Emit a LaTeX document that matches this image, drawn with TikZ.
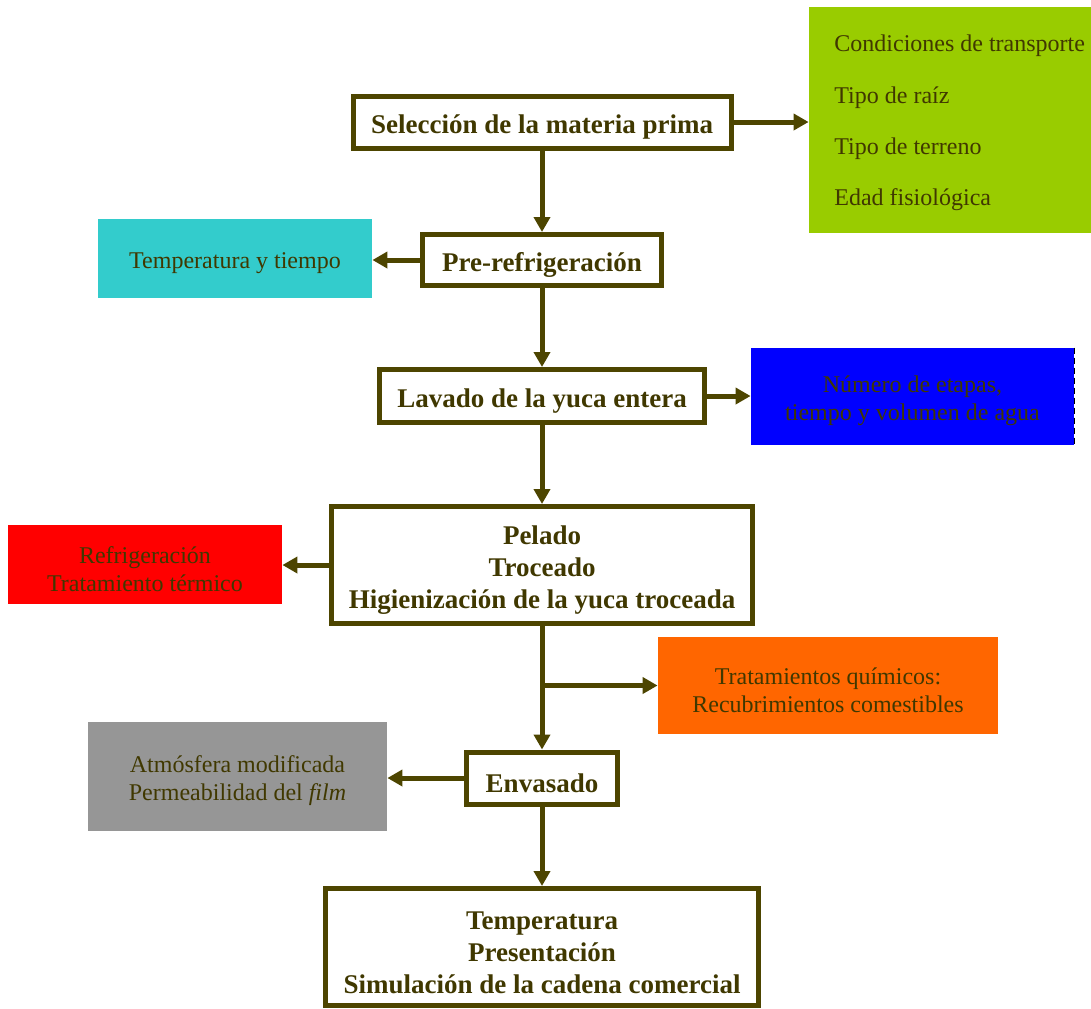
\documentclass[tikz,border=0pt]{standalone}
\usepackage{fontspec}
\setmainfont{Liberation Serif}
\usetikzlibrary{arrows.meta}

\definecolor{linecol}{RGB}{77,69,0}
\definecolor{textcol}{RGB}{64,56,0}
\definecolor{grncol}{RGB}{153,204,0}
\definecolor{cyancol}{RGB}{51,204,204}
\definecolor{bluecol}{RGB}{0,0,255}
\definecolor{redcol}{RGB}{255,0,0}
\definecolor{orgcol}{RGB}{255,102,0}
\definecolor{graycol}{RGB}{150,150,150}

% invisible struts that push the first line down a little
\newcommand{\mainstrut}{\rule{0pt}{14.5pt}}
\newcommand{\sidestrut}{\rule{0pt}{13pt}}

\begin{document}
\begin{tikzpicture}[
    x=0.5pt, y=-0.5pt,
    stepbox/.style={draw=linecol, line width=2.5pt, fill=white, text=textcol,
        font=\bfseries\fontsize{13.5}{16}\selectfont, align=center, inner sep=0pt},
    sidebox/.style={text=textcol, font=\fontsize{12}{14}\selectfont,
        align=center, inner sep=0pt},
    arrow/.style={-{Triangle[length=7.5pt,width=8pt]}, line width=2.5pt, draw=linecol}
]
\useasboundingbox (0,0) rectangle (1091,1008);

% main steps
\node[stepbox, minimum width=189pt, minimum height=26pt] (sel) at (542,122) {\mainstrut Selección de la materia prima};
\node[stepbox, minimum width=119.5pt, minimum height=25.5pt] (pre) at (542,260) {\mainstrut Pre-refrigeración};
\node[stepbox, minimum width=162.5pt, minimum height=26.5pt] (lav) at (542,396) {\mainstrut Lavado de la yuca entera};
\node[stepbox, minimum width=210.5pt, minimum height=58.5pt] (pel) at (542,565) {\mainstrut Pelado\\Troceado\\Higienización de la yuca troceada};
\node[stepbox, minimum width=75.5pt, minimum height=26pt] (env) at (542,778) {\mainstrut Envasado};
\node[stepbox, minimum width=216.5pt, minimum height=58.5pt] (tem) at (542,947) {\mainstrut Temperatura\\Presentación\\Simulación de la cadena comercial};

% side factors
\node[sidebox, fill=grncol, minimum width=141pt, minimum height=113pt] (grn) at (950,120) {};
\node[sidebox, align=left, anchor=west] (grntxt) at (834,123) {Condiciones de transporte\\[11.7pt]Tipo de raíz\\[11.7pt]Tipo de terreno\\[11.7pt]Edad fisiológica};
\node[sidebox, fill=cyancol, minimum width=137pt, minimum height=39.5pt] (cyan) at (235,258.5) {\sidestrut Temperatura y tiempo};
\node[sidebox, fill=bluecol, minimum width=161.5pt, minimum height=48.5pt] (blu) at (912.5,396.5) {\sidestrut Número de etapas,\\tiempo y volumen de agua};
\draw[black, line width=0.5pt, densely dashed] (blu.north east) -- (blu.south east);
\node[sidebox, fill=redcol, minimum width=137pt, minimum height=39.5pt] (red) at (145,564.5) {\sidestrut Refrigeración\\Tratamiento térmico};
\node[sidebox, fill=orgcol, minimum width=170pt, minimum height=48.5pt] (org) at (828,685.5) {\sidestrut Tratamientos químicos:\\Recubrimientos comestibles};
\node[sidebox, fill=graycol, minimum width=149.5pt, minimum height=54.5pt] (gry) at (237.5,776.5) {\sidestrut Atmósfera modificada\\Permeabilidad del \textit{film}};

% flow
\draw[arrow] (sel) -- (pre);
\draw[arrow] (pre) -- (lav);
\draw[arrow] (lav) -- (pel);
\draw[arrow] (pel) -- (env);
\draw[arrow] (env) -- (tem);

% side arrows
\draw[arrow] (sel.east) -- (sel.east -| grn.west);
\draw[arrow] (pre.west) -- (pre.west -| cyan.east);
\draw[arrow] (lav.east) -- (lav.east -| blu.west);
\draw[arrow] (pel.west) -- (pel.west -| red.east);
\draw[arrow] (pel.south |- org.west) -- (org.west);
\draw[arrow] (env.west) -- (env.west -| gry.east);
\end{tikzpicture}
\end{document}
